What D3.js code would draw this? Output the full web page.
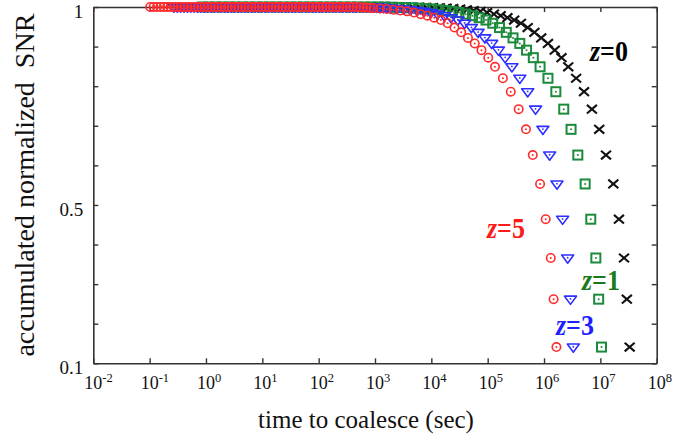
<!DOCTYPE html>
<html>
<head>
<meta charset="utf-8">
<script src="https://cdn.jsdelivr.net/npm/d3@7"></script>
<style>
  body { margin: 0; background: #fff; }
  text { font-family: "Liberation Serif", "Times New Roman", serif; fill: #111; }
</style>
</head>
<body>
<div id="chart"></div>
<script>
// accumulated normalized SNR, shared rows (largest time first)
const snrLevels = [
  0.141, 0.262, 0.366, 0.464, 0.553, 0.626, 0.691, 0.742, 0.786, 0.820,
  0.849, 0.872, 0.891, 0.908, 0.922, 0.936, 0.948, 0.959, 0.967, 0.973,
  0.978, 0.982, 0.986, 0.989, 0.991, 0.993, 0.995, 0.996, 0.997, 0.998,
  0.9985, 0.999, 0.9995, 1, 1, 1, 1, 1, 1, 1,
  1, 1, 1, 1, 1, 1, 1, 1, 1, 1,
  1, 1, 1, 1, 1, 1, 1, 1, 1, 1,
  1, 1, 1, 1, 1, 1, 1, 1, 1, 1,
  1, 1, 1, 1, 1, 1, 1, 1, 1, 1,
  1, 1, 1, 1, 1, 1, 1, 1, 1, 1,
  1, 1, 1, 1, 1
];

// log10 of time to coalesce (sec) for each redshift
const logT_z0 = [
  7.52, 7.47, 7.42, 7.33, 7.23, 7.10, 6.98, 6.85, 6.71, 6.57, 6.43, 6.31, 6.19,
  6.07, 5.95, 5.83, 5.71, 5.59, 5.47, 5.35, 5.23, 5.11, 4.99, 4.87, 4.75, 4.63,
  4.51, 4.39, 4.27, 4.15, 4.03, 3.91, 3.79, 3.67, 3.55, 3.43, 3.31, 3.19, 3.07,
  2.95, 2.83, 2.71, 2.59, 2.47, 2.35, 2.23, 2.11, 1.99, 1.87, 1.75, 1.63, 1.51,
  1.39, 1.27, 1.15, 1.03, 0.91, 0.79, 0.67, 0.55, 0.43
];
const logT_z1 = [
  7.02, 6.97, 6.92, 6.83, 6.73, 6.60, 6.48, 6.35, 6.21, 6.07, 5.93, 5.81, 5.69,
  5.57, 5.45, 5.33, 5.21, 5.09, 4.97, 4.85, 4.73, 4.61, 4.49, 4.37, 4.25, 4.13,
  4.01, 3.89, 3.77, 3.65, 3.53, 3.41, 3.29, 3.17, 3.05, 2.93, 2.81, 2.69, 2.57,
  2.45, 2.33, 2.21, 2.09, 1.97, 1.85, 1.73, 1.61, 1.49, 1.37, 1.25, 1.13, 1.01,
  0.89, 0.77, 0.65, 0.53, 0.41, 0.29, 0.17, 0.05, -0.07
];
const logT_z3 = [
  6.52, 6.47, 6.42, 6.33, 6.23, 6.10, 5.98, 5.85, 5.71, 5.57, 5.43, 5.31, 5.19,
  5.07, 4.95, 4.83, 4.71, 4.59, 4.47, 4.35, 4.23, 4.11, 3.99, 3.87, 3.75, 3.63,
  3.51, 3.39, 3.27,
  3.21, 3.15, 3.09, 3.03, 2.97, 2.91, 2.85, 2.79, 2.73, 2.67, 2.61, 2.55, 2.49,
  2.43, 2.37, 2.31, 2.25, 2.19, 2.13, 2.07, 2.01, 1.95, 1.89, 1.83, 1.77, 1.71,
  1.65, 1.59, 1.53, 1.47, 1.41, 1.35, 1.29, 1.23, 1.17, 1.11, 1.05, 0.99, 0.93,
  0.87, 0.81, 0.75, 0.69, 0.63, 0.57, 0.51, 0.45, 0.39, 0.33, 0.27, 0.21, 0.15,
  0.09, 0.03, -0.03, -0.09, -0.15, -0.21, -0.27, -0.33, -0.39, -0.45, -0.51, -0.57
];
const logT_z5 = [
  6.22, 6.17, 6.12, 6.03, 5.93, 5.80, 5.68, 5.55, 5.41, 5.27, 5.13, 5.01, 4.89,
  4.77, 4.65, 4.53, 4.41, 4.29, 4.17, 4.05, 3.93, 3.81, 3.69, 3.57, 3.45, 3.33,
  3.21, 3.09, 2.97,
  2.91, 2.85, 2.79, 2.73, 2.67, 2.61, 2.55, 2.49, 2.43, 2.37, 2.31, 2.25, 2.19,
  2.13, 2.07, 2.01, 1.95, 1.89, 1.83, 1.77, 1.71, 1.65, 1.59, 1.53, 1.47, 1.41,
  1.35, 1.29, 1.23, 1.17, 1.11, 1.05, 0.99, 0.93, 0.87, 0.81, 0.75, 0.69, 0.63,
  0.57, 0.51, 0.45, 0.39, 0.33, 0.27, 0.21, 0.15, 0.09, 0.03, -0.03, -0.09,
  -0.15, -0.21, -0.27, -0.33, -0.39, -0.45, -0.51, -0.57, -0.63, -0.69, -0.75,
  -0.81, -0.87, -0.93, -0.99
];

const xDecades = [-2, -1, 0, 1, 2, 3, 4, 5, 6, 7, 8];
const yTicks = [0.1, 0.2, 0.3, 0.4, 0.5, 0.6, 0.7, 0.8, 0.9, 1];
const yLabeled = [0.1, 0.5, 1];

const W = 696, H = 440;
const plot = { left: 93.3, right: 656.7, top: 7, bottom: 363.3 };

const svg = d3.select("#chart").append("svg")
  .attr("width", W).attr("height", H);

svg.append("rect").attr("width", W).attr("height", H).attr("fill", "#fff");

const x = d3.scaleLog().domain([1e-2, 1e8]).range([plot.left, plot.right]);
const y = d3.scaleLinear().domain([0.1, 1]).range([plot.bottom, plot.top]);

const axisColor = "#333";

// bottom axis
const gx = svg.append("g")
  .attr("transform", `translate(0,${plot.bottom})`)
  .call(d3.axisBottom(x)
    .tickValues(xDecades.map(d => Math.pow(10, d)))
    .tickSize(-5).tickSizeOuter(0)
    .tickFormat(() => ""));

gx.selectAll(".tick").each(function (d) {
  const e = Math.round(Math.log10(d));
  const t = d3.select(this).append("text")
    .attr("x", -9.5).attr("y", 26)
    .attr("text-anchor", "start")
    .style("font-size", "18px");
  t.append("tspan").text("10");
  t.append("tspan").attr("dy", -7).style("font-size", "12.5px").text(e);
});

// top axis (ticks only)
svg.append("g")
  .attr("transform", `translate(0,${plot.top})`)
  .call(d3.axisTop(x)
    .tickValues(xDecades.map(d => Math.pow(10, d)))
    .tickSize(-5).tickSizeOuter(0)
    .tickFormat(() => ""));

// left axis
svg.append("g")
  .attr("transform", `translate(${plot.left},0)`)
  .call(d3.axisLeft(y)
    .tickValues(yTicks)
    .tickSize(-5).tickSizeOuter(0)
    .tickFormat(d => yLabeled.some(v => Math.abs(v - d) < 1e-9) ? d3.format("")(d) : ""))
  .selectAll(".tick text")
  .attr("x", -10).attr("dy", "0.55em")
  .style("font-size", "19px");

// right axis (ticks only)
svg.append("g")
  .attr("transform", `translate(${plot.right},0)`)
  .call(d3.axisRight(y)
    .tickValues(yTicks)
    .tickSize(-5).tickSizeOuter(0)
    .tickFormat(() => ""));

svg.selectAll(".domain").attr("stroke", axisColor).attr("stroke-width", 1.6);
svg.selectAll(".tick line").attr("stroke", axisColor).attr("stroke-width", 1.4);
svg.selectAll(".tick text").attr("fill", "#111").attr("font-family", null);

// axis titles
svg.append("text")
  .attr("x", (plot.left + plot.right) / 2 - 9)
  .attr("y", 428)
  .attr("text-anchor", "middle")
  .style("font-size", "25px")
  .text("time to coalesce (sec)");

svg.append("text")
  .attr("transform", `translate(34,${(plot.top + plot.bottom) / 2}) rotate(-90)`)
  .attr("text-anchor", "middle")
  .style("font-size", "28px")
  .style("white-space", "pre")
  .text("accumulated normalized  SNR");

// series
const red = "#ff2b2b", blue = "#2f2fff", green = "#1b8a3a", black = "#111";

function points(logT) {
  return logT.map((lt, i) => ({ t: Math.pow(10, lt), s: snrLevels[i] }));
}

const marks = svg.append("g");

// z=0 : crosses
marks.append("g").selectAll("path")
  .data(points(logT_z0)).join("path")
  .attr("transform", d => `translate(${x(d.t)},${y(d.s)})`)
  .attr("d", "M-5,-4.3L5,4.3M-5,4.3L5,-4.3")
  .attr("stroke", black).attr("stroke-width", 2.1).attr("fill", "none");

// z=1 : squares with dot
const gSq = marks.append("g").selectAll("g")
  .data(points(logT_z1)).join("g")
  .attr("transform", d => `translate(${x(d.t)},${y(d.s)})`);
gSq.append("rect").attr("x", -4.5).attr("y", -4.5).attr("width", 9).attr("height", 9)
  .attr("fill", "none").attr("stroke", green).attr("stroke-width", 2);
gSq.append("circle").attr("r", 1).attr("fill", green);

// z=3 : down triangles with dot
const gTri = marks.append("g").selectAll("g")
  .data(points(logT_z3)).join("g")
  .attr("transform", d => `translate(${x(d.t)},${y(d.s)})`);
gTri.append("path").attr("d", "M-6,-3L6,-3L0,5.2Z")
  .attr("fill", "none").attr("stroke", blue).attr("stroke-width", 1.6)
  .attr("stroke-linejoin", "round");
gTri.append("circle").attr("cy", -0.3).attr("r", 0.9).attr("fill", blue);

// z=5 : circles with dot
const gCir = marks.append("g").selectAll("g")
  .data(points(logT_z5)).join("g")
  .attr("transform", d => `translate(${x(d.t)},${y(d.s)})`);
gCir.append("circle").attr("r", 4.2)
  .attr("fill", "none").attr("stroke", red).attr("stroke-width", 1.6);
gCir.append("circle").attr("r", 1).attr("fill", red);

// redshift labels
const zLabels = [
  { text: "0", color: "#000", px: 590, py: 61 },
  { text: "5", color: "#ff1a1a", px: 487, py: 238 },
  { text: "1", color: "#1a7a1a", px: 582, py: 290 },
  { text: "3", color: "#1f1fff", px: 556, py: 335 }
];
zLabels.forEach(l => {
  const t = svg.append("text")
    .attr("transform", `translate(${l.px},${l.py}) scale(1,1.15)`)
    .style("font-size", "26px").style("font-weight", "bold")
    .style("fill", l.color);
  t.append("tspan").style("font-style", "italic").style("fill", l.color).text("z");
  t.append("tspan").style("fill", l.color).text("=" + l.text);
});
</script>
</body>
</html>
